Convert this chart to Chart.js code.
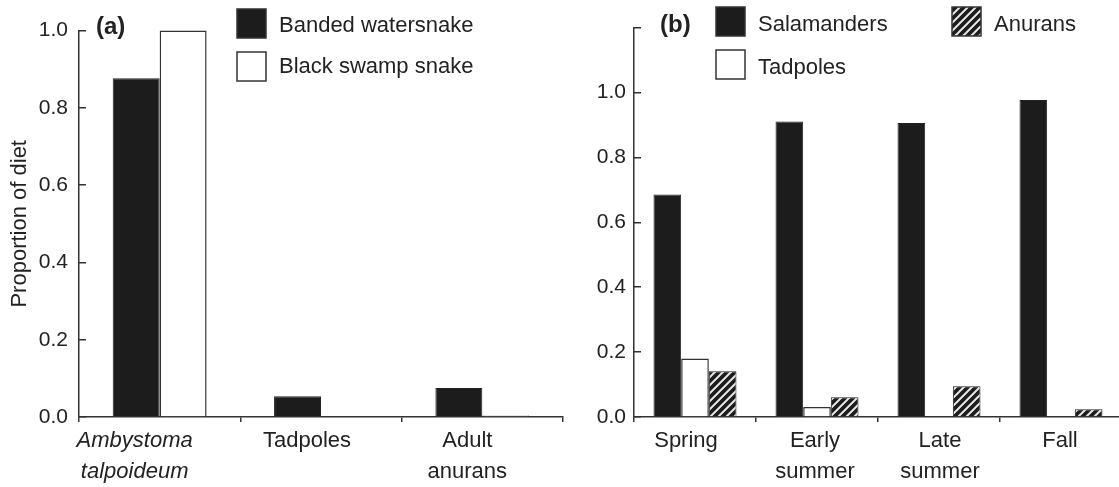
<!DOCTYPE html>
<html><head><meta charset="utf-8">
<script src="https://cdn.jsdelivr.net/npm/chart.js@4/dist/chart.umd.min.js"></script>
<style>
html,body{margin:0;padding:0;background:#fff;overflow:hidden;width:1119px;height:487px;}
#wa{position:absolute;left:0;top:0;width:575px;height:487px;}
#wb{position:absolute;left:575px;top:0;width:550px;height:487px;}
</style></head><body>
<div id="wa"><canvas id="ca"></canvas></div>
<div id="wb"><canvas id="cb"></canvas></div>
<script>
// ---- data ----
const dietCategories = [['Ambystoma', 'talpoideum'], ['Tadpoles'], ['Adult', 'anurans']];
const bandedWatersnake = [0.877, 0.054, 0.075];
const blackSwampSnake = [1.0, 0, 0.004];
const seasonCategories = [['Spring'], ['Early', 'summer'], ['Late', 'summer'], ['Fall']];
const salamanders = [0.686, 0.911, 0.906, 0.977];
const tadpoles = [0.18, 0.031, 0, 0];
const anurans = [0.141, 0.061, 0.095, 0.024];
const yTicksA = [0, 0.2, 0.4, 0.6, 0.8, 1.0];
const yTickLabelsA = ['0.0', '0.2', '0.4', '0.6', '0.8', '1.0'];
const yTicksB = [0, 0.2, 0.4, 0.6, 0.8, 1.0, 1.2];
const yTickLabelsB = ['0.0', '0.2', '0.4', '0.6', '0.8', '1.0', ''];

// ---- styles ----
const FONT = '"Liberation Sans", Arial, Helvetica, sans-serif';
const INK = '#222';
const AX = '#333';
const BLACK = '#1c1c1c';

function hatchPattern() {
  const c = document.createElement('canvas');
  c.width = 8; c.height = 8;
  const g = c.getContext('2d');
  g.fillStyle = BLACK; g.fillRect(0, 0, 8, 8);
  g.strokeStyle = '#e6e6e6'; g.lineWidth = 2;
  g.beginPath();
  g.moveTo(-1, 9); g.lineTo(9, -1);
  g.moveTo(-1, 1); g.lineTo(1, -1);
  g.moveTo(7, 9); g.lineTo(9, 7);
  g.stroke();
  return g.createPattern(c, 'repeat');
}
const HATCH = hatchPattern();

const xLabelPlugin = {
  id: 'xlabels',
  afterDraw(chart, args, opts) {
    const ctx = chart.ctx, xs = chart.scales.x;
    ctx.save();
    ctx.fillStyle = INK; ctx.textAlign = 'center'; ctx.textBaseline = 'middle';
    chart.data.labels.forEach((lines, i) => {
      const x = xs.getPixelForValue(i) + (opts.offsets[i] || 0);
      ctx.font = (opts.italic[i] ? 'italic ' : '') + '22px ' + FONT;
      lines.forEach((t, j) => ctx.fillText(t, x, opts.y + j * opts.lh));
    });
    ctx.restore();
  }
};

const panelLegend = {
  id: 'panelLegend',
  afterDraw(chart, args, opts) {
    const ctx = chart.ctx;
    ctx.save();
    ctx.textBaseline = 'middle'; ctx.textAlign = 'left';
    ctx.fillStyle = INK;
    ctx.font = 'bold 24px ' + FONT;
    ctx.fillText(opts.letter, opts.letterX, opts.letterY);
    ctx.font = '22px ' + FONT;
    opts.items.forEach(it => {
      const ds = chart.data.datasets[it.dataset];
      ctx.fillStyle = ds.backgroundColor;
      ctx.fillRect(it.x, it.y, 29, 29);
      ctx.lineWidth = 1.5; ctx.strokeStyle = AX;
      ctx.strokeRect(it.x, it.y, 29, 29);
      ctx.fillStyle = INK;
      ctx.fillText(ds.label, it.x + 42, it.ty);
    });
    ctx.restore();
  }
};

function yScale(max, ticks, labels, width, pad, withTitle) {
  return {
    min: 0, max: max,
    afterBuildTicks: s => { s.ticks = ticks.map(v => ({ value: v })); },
    ticks: { font: { size: 21, family: FONT }, color: INK, padding: pad,
             callback: (v, i) => labels[i] },
    grid: { drawOnChartArea: false, drawTicks: true, tickLength: -7, color: AX, lineWidth: 1.5 },
    border: { display: true, color: AX, width: 1.5 },
    title: { display: withTitle, text: 'Proportion of diet', color: INK,
             font: { size: 22, family: FONT }, padding: { top: 7, bottom: 0 } },
    afterFit: s => { s.width = width; }
  };
}
function xScale() {
  return {
    type: 'category', offset: true,
    grid: { offset: true, drawOnChartArea: false, drawTicks: true, tickLength: 5, color: AX, lineWidth: 1.5 },
    border: { display: true, color: AX, width: 1.5 },
    ticks: { display: false },
    afterFit: s => { s.height = 70; }
  };
}

new Chart(document.getElementById('ca'), {
  type: 'bar',
  data: {
    labels: dietCategories,
    datasets: [
      { label: 'Banded watersnake', data: bandedWatersnake, backgroundColor: BLACK, borderColor: '#222', borderWidth: 1 },
      { label: 'Black swamp snake', data: blackSwampSnake, backgroundColor: '#ffffff', borderColor: AX, borderWidth: 1.5 }
    ]
  },
  options: {
    responsive: true, maintainAspectRatio: false, animation: false,
    layout: { padding: { left: 0, right: 12, top: 24, bottom: 0 } },
    datasets: { bar: { categoryPercentage: 0.582, barPercentage: 1, clip: false } },
    plugins: {
      legend: { display: false }, tooltip: { enabled: false },
      xlabels: { offsets: [-25, -14, -15], italic: [true, false, false], y: 441, lh: 31 },
      panelLegend: { letter: '(a)', letterX: 96, letterY: 27,
        items: [ { dataset: 0, x: 237, y: 9, ty: 25.5 }, { dataset: 1, x: 237, y: 52, ty: 67 } ] }
    },
    scales: { x: xScale(), y: yScale(1.0, yTicksA, yTickLabelsA, 79, 18, true) }
  },
  plugins: [xLabelPlugin, panelLegend]
});

new Chart(document.getElementById('cb'), {
  type: 'bar',
  data: {
    labels: seasonCategories,
    datasets: [
      { label: 'Salamanders', data: salamanders, backgroundColor: BLACK, borderColor: '#222', borderWidth: 1 },
      { label: 'Tadpoles', data: tadpoles, backgroundColor: '#ffffff', borderColor: AX, borderWidth: 1.5 },
      { label: 'Anurans', data: anurans, backgroundColor: HATCH, borderColor: '#222', borderWidth: 1 }
    ]
  },
  options: {
    responsive: true, maintainAspectRatio: false, animation: false,
    layout: { padding: { left: 0, right: 3, top: 23, bottom: 0 } },
    datasets: { bar: { categoryPercentage: 0.68, barPercentage: 1, clip: false } },
    plugins: {
      legend: { display: false }, tooltip: { enabled: false },
      xlabels: { offsets: [-9, -2, 1, -1], italic: [false, false, false, false], y: 441, lh: 31 },
      panelLegend: { letter: '(b)', letterX: 85, letterY: 25,
        items: [ { dataset: 0, x: 141, y: 7, ty: 25 }, { dataset: 2, x: 377, y: 7, ty: 25 }, { dataset: 1, x: 141, y: 50, ty: 67.5 } ] }
    },
    scales: { x: xScale(), y: yScale(1.2, yTicksB, yTickLabelsB, 59, 15, false) }
  },
  plugins: [xLabelPlugin, panelLegend]
});
</script>
</body></html>
